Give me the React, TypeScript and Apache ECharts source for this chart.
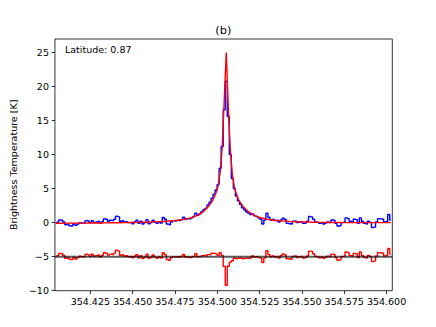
import React, { useEffect, useRef } from "react";
import * as echarts from "echarts";

// Spectral channels: frequency of channel i = FREQ_START + i * CHANNEL_WIDTH (GHz)
const FREQ_START = 354.4045;
const CHANNEL_WIDTH = 0.0012;

// Observed spectrum (blue, K)
const OBSERVED = [
  0.0, 0.1, 0.4, 0.35, 0.1, -0.3, -0.2, -0.45, -0.5, -0.2,
  -0.4, -0.2, 0.0, -0.1, -0.05, 0.3, 0.25, 0.0, 0.3, 0.05,
  0.1, 0.2, -0.05, 0.15, 0.55, 0.5, 0.2, 0.35, 0.3, 0.5,
  0.95, 0.85, 0.2, 0.3, 0.1, 0.15, 0.0, 0.05, -0.15, 0.1,
  0.35, -0.1, 0.2, -0.2, 0.0, 0.45, -0.15, 0.0, 0.35, 0.05,
  -0.1, 0.1, -0.05, 0.75, 0.5, -0.2, -0.3, 0.1, 0.3, 0.25,
  0.35, 0.3, 0.45, 0.8, 0.5, 0.6, 0.55, 0.7, 0.9, 1.4,
  1.1, 1.3, 1.6, 1.9, 2.1, 2.6, 3.0, 3.6, 4.2, 4.8,
  5.6, 8.0, 11.2, 16.6, 20.8, 15.6, 10.0, 6.5, 5.0, 3.9,
  3.2, 2.7, 2.2, 1.9, 1.6, 1.4, 1.2, 1.3, 1.0, 0.9,
  0.7, 0.5, -0.2, 0.4, 1.4, 0.8, 0.4, 0.5, 0.3, 0.35,
  0.1, 0.4, 0.65, 0.5, -0.1, -0.15, -0.2, 0.2, 0.25, 0.0,
  0.1, 0.15, -0.1, -0.05, 0.2, 0.9, 0.85, 0.5, 0.1, 0.05,
  -0.1, 0.0, -0.2, -0.05, 0.1, 0.0, 0.4, 0.35, -0.1, -0.5,
  -0.45, 0.0, 0.1, 0.7, 0.6, 0.2, 0.1, 0.5, 0.45, -0.1,
  0.7, 0.2, -0.1, -0.2, 0.2, 0.05, -0.7, -0.65, 0.1, 0.6,
  0.55, 0.5, 0.1, 0.2, 1.2, 0.4,
];

// Line fit (red smooth curve, K)
const FIT = [
  -0.08, -0.08, -0.08, -0.08, -0.07, -0.07, -0.07, -0.07, -0.07, -0.07,
  -0.07, -0.06, -0.06, -0.06, -0.06, -0.06, -0.05, -0.05, -0.05, -0.05,
  -0.05, -0.04, -0.04, -0.04, -0.03, -0.03, -0.03, -0.02, -0.02, -0.02,
  -0.02, -0.01, -0.01, 0.0, 0.0, 0.01, 0.01, 0.02, 0.02, 0.03,
  0.04, 0.05, 0.05, 0.06, 0.07, 0.08, 0.09, 0.1, 0.11, 0.12,
  0.13, 0.15, 0.16, 0.18, 0.2, 0.22, 0.24, 0.26, 0.29, 0.32,
  0.35, 0.39, 0.43, 0.48, 0.54, 0.6, 0.67, 0.75, 0.85, 0.95,
  1.1, 1.25, 1.45, 1.7, 2.0, 2.3, 2.7, 3.1, 3.7, 4.4,
  5.4, 7.4, 11.0, 18.0, 25.0, 17.0, 10.8, 7.1, 5.2, 4.2,
  3.4, 2.9, 2.5, 2.15, 1.85, 1.6, 1.4, 1.2, 1.05, 0.92,
  0.82, 0.72, 0.65, 0.58, 0.52, 0.47, 0.42, 0.38, 0.35, 0.32,
  0.29, 0.26, 0.24, 0.22, 0.2, 0.18, 0.16, 0.15, 0.14, 0.13,
  0.12, 0.11, 0.1, 0.09, 0.09, 0.08, 0.07, 0.07, 0.06, 0.06,
  0.05, 0.05, 0.04, 0.04, 0.03, 0.03, 0.03, 0.02, 0.02, 0.02,
  0.02, 0.01, 0.01, 0.01, 0.01, 0.01, 0.01, 0.01, 0.01, 0.01,
  0.0, 0.0, 0.0, 0.0, 0.0, 0.0, 0.0, 0.0, 0.0, 0.0,
  0.0, 0.0, 0.0, 0.0, 0.0, 0.0,
];

// Residual (observed - fit), shown offset at -5 K
const RESIDUAL = [
  -4.92, -4.82, -4.52, -4.57, -4.83, -5.23, -5.13, -5.38, -5.43, -5.13,
  -5.33, -5.14, -4.94, -5.04, -4.99, -4.64, -4.7, -4.95, -4.65, -4.9,
  -4.85, -4.76, -5.01, -4.81, -4.42, -4.47, -4.77, -4.63, -4.68, -4.48,
  -4.03, -4.14, -4.79, -4.7, -4.9, -4.86, -5.01, -4.97, -5.17, -4.93,
  -4.69, -5.15, -4.85, -5.26, -5.07, -4.63, -5.24, -5.1, -4.76, -5.07,
  -5.23, -5.05, -5.21, -4.43, -4.7, -5.42, -5.54, -5.16, -4.99, -5.07,
  -5.0, -5.09, -4.98, -4.68, -5.04, -5.0, -5.12, -5.05, -4.95, -4.55,
  -5.0, -4.95, -4.85, -4.8, -4.9, -4.7, -4.7, -4.5, -4.5, -4.6,
  -4.8, -4.4, -4.8, -6.4, -9.2, -6.4, -5.8, -5.6, -5.2, -5.3,
  -5.2, -5.2, -5.3, -5.25, -5.25, -5.2, -5.2, -4.9, -5.05, -5.02,
  -5.12, -5.22, -5.85, -5.18, -4.12, -4.67, -5.02, -4.88, -5.05, -4.97,
  -5.19, -4.86, -4.59, -4.72, -5.3, -5.33, -5.36, -4.95, -4.89, -5.13,
  -5.02, -4.96, -5.2, -5.14, -4.89, -4.18, -4.22, -4.57, -4.96, -5.01,
  -5.15, -5.05, -5.24, -5.09, -4.93, -5.03, -4.63, -4.67, -5.12, -5.52,
  -5.47, -5.01, -4.91, -4.31, -4.41, -4.81, -4.91, -4.51, -4.56, -5.11,
  -4.3, -4.8, -5.1, -5.2, -4.8, -4.95, -5.7, -5.65, -4.9, -4.4,
  -4.45, -4.5, -4.9, -4.8, -3.8, -4.6,
];

const BASELINE = -5;
const X_MIN = 354.4041;
const X_MAX = 354.6034;
const Y_MIN = -10;
const Y_MAX = 27;
const X_TICKS = [354.425, 354.45, 354.475, 354.5, 354.525, 354.55, 354.575, 354.6];
const Y_TICKS = [-10, -5, 0, 5, 10, 15, 20, 25];
const TITLE = "(b)";
const ANNOTATION = "Latitude: 0.87";
const Y_NAME = "Brightness Temperature [K]";

const FONT = "'DejaVu Sans', sans-serif";

export default function App() {
  const ref = useRef<HTMLDivElement>(null);

  useEffect(() => {
    if (!ref.current) return;
    const chart = echarts.init(ref.current, undefined, { renderer: "svg" });

    const freq = (i: number) => +(FREQ_START + i * CHANNEL_WIDTH).toFixed(5);
    const obs = OBSERVED.map((v, i) => [freq(i), v]);
    const fit = FIT.map((v, i) => [freq(i), v]);
    const res = RESIDUAL.map((v, i) => [freq(i), v]);
    const base = [
      [X_MIN, BASELINE],
      [X_MAX, BASELINE],
    ];

    const gridLeft = 54.3;
    const gridRight = 43.7;
    const gridTop = 39;
    const gridBottom = 36.3;
    const plotCenter = gridLeft + (436 - gridLeft - gridRight) / 2;

    chart.setOption({
      animation: false,
      backgroundColor: "#fff",
      textStyle: { fontFamily: FONT },
      grid: {
        left: gridLeft,
        right: gridRight,
        top: gridTop,
        bottom: gridBottom,
        show: true,
        borderColor: "#000",
        borderWidth: 0.8,
        backgroundColor: "transparent",
      },
      graphic: [
        {
          type: "text",
          x: plotCenter,
          y: 30,
          style: {
            text: TITLE,
            fontSize: 11.3,
            fontFamily: FONT,
            fill: "#000",
            align: "center",
            verticalAlign: "middle",
          },
        },
        {
          type: "text",
          x: 65,
          y: 49,
          style: {
            text: ANNOTATION,
            fontSize: 9.5,
            fontFamily: FONT,
            fill: "#000",
            align: "left",
            verticalAlign: "middle",
          },
        },
      ],
      xAxis: {
        type: "value",
        min: X_MIN,
        max: X_MAX,
        splitLine: { show: false },
        axisLine: { show: false, onZero: false },
        axisTick: {
          show: true,
          inside: false,
          length: 3.3,
          lineStyle: { color: "#000", width: 0.8 },
          customValues: X_TICKS,
        },
        axisLabel: {
          color: "#000",
          fontSize: 9.5,
          fontFamily: FONT,
          margin: 6,
          customValues: X_TICKS,
          formatter: (v: number) => v.toFixed(3),
        },
      },
      yAxis: {
        type: "value",
        min: Y_MIN,
        max: Y_MAX,
        name: Y_NAME,
        nameLocation: "middle",
        nameGap: 29,
        nameRotate: 90,
        nameTextStyle: { color: "#000", fontSize: 9.5, fontFamily: FONT },
        splitLine: { show: false },
        axisLine: { show: false, onZero: false },
        axisTick: {
          show: true,
          inside: false,
          length: 3.3,
          lineStyle: { color: "#000", width: 0.8 },
          customValues: Y_TICKS,
        },
        axisLabel: {
          color: "#000",
          fontSize: 9.5,
          fontFamily: FONT,
          margin: 6,
          customValues: Y_TICKS,
          formatter: (v: number) => String(v).replace("-", "\u2212"),
        },
      },
      series: [
        {
          name: "observed",
          type: "line",
          data: obs,
          step: "middle",
          showSymbol: false,
          symbol: "none",
          lineStyle: { color: "#0000ff", width: 1.4 },
          z: 2,
        },
        {
          name: "fit",
          type: "line",
          data: fit,
          showSymbol: false,
          symbol: "none",
          lineStyle: { color: "#ff0000", width: 1.4 },
          z: 3,
        },
        {
          name: "residual",
          type: "line",
          data: res,
          step: "middle",
          showSymbol: false,
          symbol: "none",
          lineStyle: { color: "#ff0000", width: 1.4 },
          z: 3,
        },
        {
          name: "baseline",
          type: "line",
          data: base,
          showSymbol: false,
          symbol: "none",
          lineStyle: { color: "rgba(0,0,0,0.65)", width: 2 },
          z: 4,
        },
      ],
    });

    return () => chart.dispose();
  }, []);

  return (
    <div
      ref={ref}
      style={{ position: "absolute", left: 0, top: 0, width: 436, height: 327 }}
    />
  );
}
